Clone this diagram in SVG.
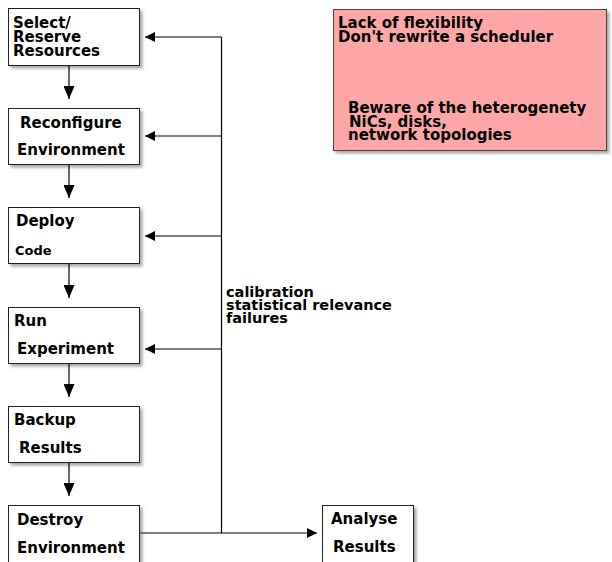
<svg xmlns="http://www.w3.org/2000/svg" width="612" height="562" viewBox="0 0 612 562">
<style>
text{font-family:"DejaVu Sans","Liberation Sans",sans-serif;font-weight:bold;fill:#000}
.t{font-size:15px}
.s{font-size:13px}
.n{font-size:14.5px}
.nt{font-size:15px}
.box{fill:#fff;stroke:#222;stroke-width:1}
.note{fill:#ffa7a7;stroke:#444;stroke-width:1}
.ln{fill:none;stroke:#000;stroke-width:1.2}
</style>
<defs>
<filter id="sh" x="-10%" y="-10%" width="130%" height="130%">
<feDropShadow dx="2.5" dy="2.5" stdDeviation="1.4" flood-color="#000" flood-opacity="0.35"/>
</filter>
<marker id="ah" viewBox="0 0 10 10" refX="10" refY="5" markerWidth="10" markerHeight="10" markerUnits="userSpaceOnUse" orient="auto">
<path d="M0,0 L10,5 L0,10 Z" fill="#000"/>
</marker>
<marker id="av" viewBox="0 0 13 11" refX="13" refY="5.5" markerWidth="13" markerHeight="11" markerUnits="userSpaceOnUse" orient="auto">
<path d="M0,0 L13,5.5 L0,11 Z" fill="#000"/>
</marker>
</defs>
<g id="connectors">
<line class="ln" x1="69" y1="65" x2="69" y2="99" marker-end="url(#av)"/>
<line class="ln" x1="69" y1="164" x2="69" y2="198" marker-end="url(#av)"/>
<line class="ln" x1="69" y1="263" x2="69" y2="298" marker-end="url(#av)"/>
<line class="ln" x1="69" y1="363" x2="69" y2="397" marker-end="url(#av)"/>
<line class="ln" x1="69" y1="462" x2="69" y2="496" marker-end="url(#av)"/>
<line class="ln" x1="221.5" y1="37" x2="221.5" y2="533"/>
<line class="ln" x1="221.5" y1="37" x2="145" y2="37" marker-end="url(#ah)"/>
<line class="ln" x1="221.5" y1="136" x2="145" y2="136" marker-end="url(#ah)"/>
<line class="ln" x1="221.5" y1="236" x2="145" y2="236" marker-end="url(#ah)"/>
<line class="ln" x1="221.5" y1="349" x2="145" y2="349" marker-end="url(#ah)"/>
<line class="ln" x1="140.5" y1="533" x2="317" y2="533" marker-end="url(#ah)"/>
<text class="n" x="226" y="297">calibration</text>
<text class="n" x="226" y="310">statistical relevance</text>
<text class="n" x="226" y="323">failures</text>
</g>
<g id="select">
<rect class="box" x="8.5" y="8.5" width="131" height="57" filter="url(#sh)"/>
<text class="t" x="13" y="28">Select/</text>
<text class="t" x="13" y="42">Reserve</text>
<text class="t" x="13" y="56">Resources</text>
</g>
<g id="reconfigure">
<rect class="box" x="8.5" y="108.5" width="131" height="56" filter="url(#sh)"/>
<text class="t" x="20" y="127.5">Reconfigure</text>
<text class="t" x="17" y="155">Environment</text>
</g>
<g id="deploy">
<rect class="box" x="8.5" y="207.5" width="131" height="56" filter="url(#sh)"/>
<text class="t" x="16" y="226">Deploy</text>
<text class="s" x="15" y="254.5">Code</text>
</g>
<g id="run">
<rect class="box" x="8.5" y="307.5" width="131" height="56" filter="url(#sh)"/>
<text class="t" x="14" y="326">Run</text>
<text class="t" x="17" y="354">Experiment</text>
</g>
<g id="backup">
<rect class="box" x="8.5" y="406.5" width="131" height="56" filter="url(#sh)"/>
<text class="t" x="14" y="425">Backup</text>
<text class="t" x="19" y="453">Results</text>
</g>
<g id="destroy">
<rect class="box" x="8.5" y="505.5" width="131" height="60" filter="url(#sh)"/>
<text class="t" x="17" y="525">Destroy</text>
<text class="t" x="17" y="553">Environment</text>
</g>
<g id="analyse">
<rect class="box" x="322.5" y="505.5" width="91" height="60" filter="url(#sh)"/>
<text class="t" x="331" y="524">Analyse</text>
<text class="t" x="333" y="552">Results</text>
</g>
<g id="note">
<rect class="note" x="333.5" y="9.5" width="273" height="141" filter="url(#sh)"/>
<text class="nt" x="338" y="28">Lack of flexibility</text>
<text class="nt" x="338" y="41.5">Don't rewrite a scheduler</text>
<text class="nt" x="348" y="113.3">Beware of the heterogenety</text>
<text class="nt" x="349" y="126.7">NiCs, disks,</text>
<text class="nt" x="348" y="140">network topologies</text>
</g>
</svg>
